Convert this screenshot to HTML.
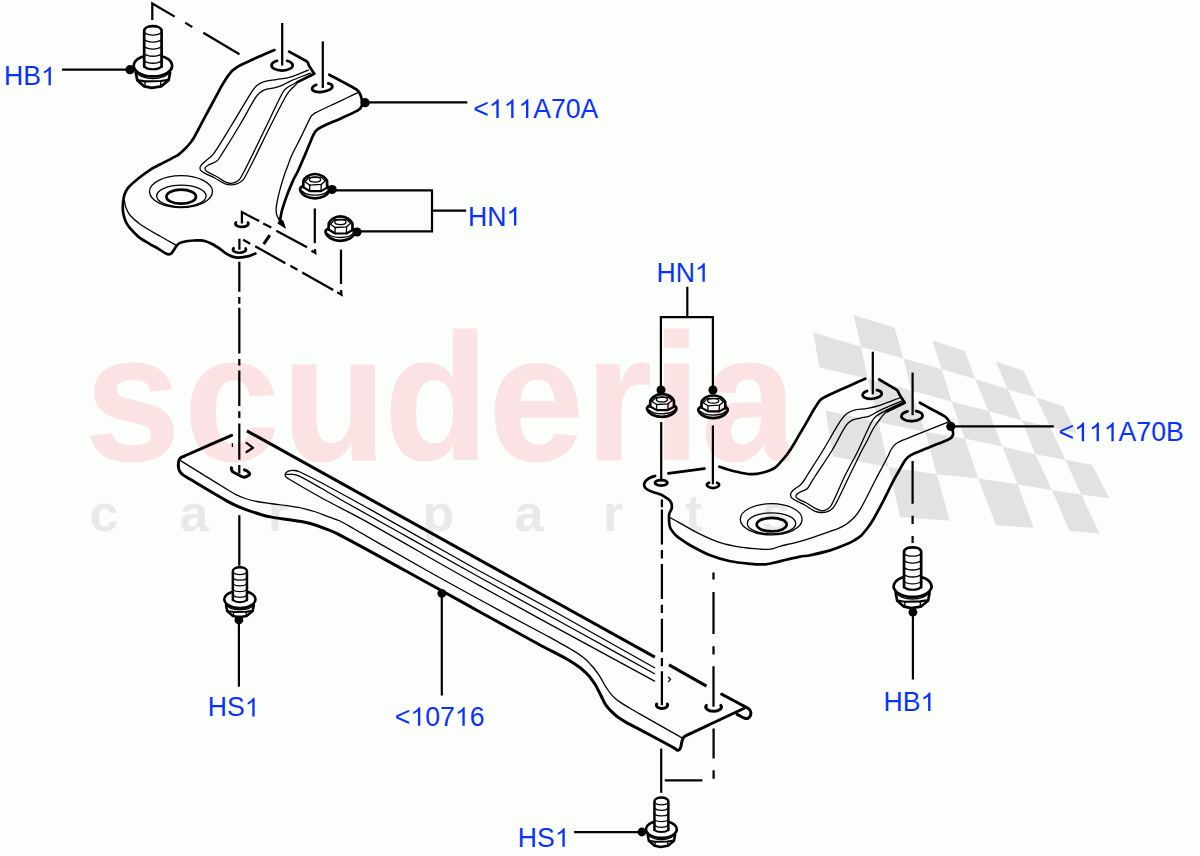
<!DOCTYPE html>
<html>
<head>
<meta charset="utf-8">
<title>Crossmember diagram</title>
<style>
html,body{margin:0;padding:0;background:#fcfefc;}
body{width:1200px;height:856px;overflow:hidden;font-family:"Liberation Sans",sans-serif;}
svg{display:block;position:absolute;left:0;top:0;}
.lbl{font-family:"Liberation Sans",sans-serif;font-size:28.05px;fill:#0a32ff;font-kerning:none;}
.wm{font-family:"Liberation Sans",sans-serif;font-weight:bold;font-kerning:none;}
.k{fill:none;stroke:#000;stroke-width:var(--k,2.7);stroke-linecap:round;stroke-linejoin:round;}
.m{fill:none;stroke:#000;stroke-width:var(--m,2.2);stroke-linecap:round;stroke-linejoin:round;}
.t{fill:none;stroke:#000;stroke-width:var(--t,1.3);stroke-linecap:round;stroke-linejoin:round;}
.ld{fill:none;stroke:#000;stroke-width:2.2;stroke-linecap:butt;}
.dot{fill:#000;stroke:none;}
.ld2{fill:none;stroke:#000;stroke-width:2.25;stroke-linecap:butt;stroke-linejoin:miter;}
.ld3{fill:none;stroke:#000;stroke-width:3;stroke-linecap:butt;}
.nss{vector-effect:non-scaling-stroke;}
</style>
</head>
<body>
<svg width="1200" height="856" viewBox="0 0 1200 856">
<rect x="0" y="0" width="1200" height="856" fill="#fcfefc"/>

<!-- WATERMARK -->
<defs><clipPath id="cwm"><rect x="0" y="300" width="789.5" height="200"/></clipPath></defs>
<g id="wm">
<g clip-path="url(#cwm)"><text class="wm" transform="translate(87,460) scale(0.951,1)" font-size="180.3" fill="#fce3e3" stroke="#fce3e3" stroke-width="1" x="-2.1 101.9 204.7 312.3 422.1 523.9 595 646">scuderia</text></g>
<text class="wm" y="531" font-size="52" fill="#e9e9ea" x="89.5 179.6 268 422.4 514.6 603 685 761.8">carparts</text>
<g fill="#e1e2e1" stroke="none">
<!-- row1 -->
<path d="M853.5,315 L894.4,327.6 L903.6,358.5 L861,346.8Z"/>
<path d="M932.3,340.5 L964.8,351 L975.2,379 L941.8,369.3Z"/>
<path d="M996,361.7 L1023.6,370.9 L1036.1,397.6 L1007.7,389.3Z"/>
<!-- row2 -->
<path d="M813.4,332.6 L861,346.8 L867.5,378.5 L819.3,367.6Z"/>
<path d="M903.6,358.5 L941.8,369.3 L951.5,401.5 L911,390.5Z"/>
<path d="M975.2,379 L1007.7,389.3 L1021.9,420.2 L988.5,411Z"/>
<path d="M1036.1,397.6 L1062.9,406 L1077,433.6 L1050.2,427Z"/>
<!-- row3 -->
<path d="M867.5,378.5 L911,390.5 L925.2,432 L878.5,422Z"/>
<path d="M951.5,401.5 L988.5,411 L1002.3,446.5 L964.8,438.5Z"/>
<path d="M1021.9,420.2 L1050.2,427 L1065.4,459.8 L1035.3,454.3Z"/>
<!-- row4 -->
<path d="M825.5,410.5 L878.5,422 L888.5,466.9 L833,456.5Z"/>
<path d="M925.2,432 L964.8,438.5 L978.2,478.5 L936.8,474.3Z"/>
<path d="M1002.3,446.5 L1035.3,454.3 L1052,490.2 L1017.7,484.3Z"/>
<path d="M1065.4,459.8 L1092,464.8 L1109.6,498.5 L1081.2,494.4Z"/>
<!-- row5 -->
<path d="M888.5,466.9 L936.8,474.3 L949.8,520.8 L900.2,517Z"/>
<path d="M978.2,478.5 L1017.7,484.3 L1033.6,527.8 L996,525.3Z"/>
<path d="M1052,490.2 L1081.2,494.4 L1099.6,533.6 L1069.5,531.1Z"/>
</g>
</g>

<!-- LABELS -->
<g id="labels">
<g transform="translate(3.90,85.30) scale(0.950,1)" class="lbl"><text x="0.00" y="0">HB</text><path transform="translate(38.97,0) scale(0.01370,-0.01267)" d="M763,0 H583 V1147 Q518,1085 412.5,1023 Q307,961 223,930 V1104 Q374,1175 487,1276 Q600,1377 647,1472 H763 Z"/></g>
<g transform="translate(473.20,117.90) scale(0.950,1)" class="lbl"><text x="0.00" y="0">&lt;</text><path transform="translate(16.38,0) scale(0.01370,-0.01267)" d="M763,0 H583 V1147 Q518,1085 412.5,1023 Q307,961 223,930 V1104 Q374,1175 487,1276 Q600,1377 647,1472 H763 Z"/><path transform="translate(31.98,0) scale(0.01370,-0.01267)" d="M763,0 H583 V1147 Q518,1085 412.5,1023 Q307,961 223,930 V1104 Q374,1175 487,1276 Q600,1377 647,1472 H763 Z"/><path transform="translate(47.58,0) scale(0.01370,-0.01267)" d="M763,0 H583 V1147 Q518,1085 412.5,1023 Q307,961 223,930 V1104 Q374,1175 487,1276 Q600,1377 647,1472 H763 Z"/><text x="63.18" y="0">A70A</text></g>
<g transform="translate(467.90,225.60) scale(0.950,1)" class="lbl"><text x="0.00" y="0">HN</text><path transform="translate(40.51,0) scale(0.01370,-0.01267)" d="M763,0 H583 V1147 Q518,1085 412.5,1023 Q307,961 223,930 V1104 Q374,1175 487,1276 Q600,1377 647,1472 H763 Z"/></g>
<g transform="translate(656.40,281.80) scale(0.950,1)" class="lbl"><text x="0.00" y="0">HN</text><path transform="translate(40.51,0) scale(0.01370,-0.01267)" d="M763,0 H583 V1147 Q518,1085 412.5,1023 Q307,961 223,930 V1104 Q374,1175 487,1276 Q600,1377 647,1472 H763 Z"/></g>
<g transform="translate(1058.60,441.20) scale(0.950,1)" class="lbl"><text x="0.00" y="0">&lt;</text><path transform="translate(16.38,0) scale(0.01370,-0.01267)" d="M763,0 H583 V1147 Q518,1085 412.5,1023 Q307,961 223,930 V1104 Q374,1175 487,1276 Q600,1377 647,1472 H763 Z"/><path transform="translate(31.98,0) scale(0.01370,-0.01267)" d="M763,0 H583 V1147 Q518,1085 412.5,1023 Q307,961 223,930 V1104 Q374,1175 487,1276 Q600,1377 647,1472 H763 Z"/><path transform="translate(47.58,0) scale(0.01370,-0.01267)" d="M763,0 H583 V1147 Q518,1085 412.5,1023 Q307,961 223,930 V1104 Q374,1175 487,1276 Q600,1377 647,1472 H763 Z"/><text x="63.18" y="0">A70B</text></g>
<g transform="translate(207.70,716.40) scale(0.950,1)" class="lbl"><text x="0.00" y="0">HS</text><path transform="translate(38.97,0) scale(0.01370,-0.01267)" d="M763,0 H583 V1147 Q518,1085 412.5,1023 Q307,961 223,930 V1104 Q374,1175 487,1276 Q600,1377 647,1472 H763 Z"/></g>
<g transform="translate(394.80,725.80) scale(0.950,1)" class="lbl"><text x="0.00" y="0">&lt;</text><path transform="translate(16.38,0) scale(0.01370,-0.01267)" d="M763,0 H583 V1147 Q518,1085 412.5,1023 Q307,961 223,930 V1104 Q374,1175 487,1276 Q600,1377 647,1472 H763 Z"/><text x="31.98" y="0">07</text><path transform="translate(63.18,0) scale(0.01370,-0.01267)" d="M763,0 H583 V1147 Q518,1085 412.5,1023 Q307,961 223,930 V1104 Q374,1175 487,1276 Q600,1377 647,1472 H763 Z"/><text x="78.78" y="0">6</text></g>
<g transform="translate(883.50,711.10) scale(0.950,1)" class="lbl"><text x="0.00" y="0">HB</text><path transform="translate(38.97,0) scale(0.01370,-0.01267)" d="M763,0 H583 V1147 Q518,1085 412.5,1023 Q307,961 223,930 V1104 Q374,1175 487,1276 Q600,1377 647,1472 H763 Z"/></g>
<g transform="translate(517.80,846.80) scale(0.950,1)" class="lbl"><text x="0.00" y="0">HS</text><path transform="translate(38.97,0) scale(0.01370,-0.01267)" d="M763,0 H583 V1147 Q518,1085 412.5,1023 Q307,961 223,930 V1104 Q374,1175 487,1276 Q600,1377 647,1472 H763 Z"/></g>
</g>

<!-- LEADERS -->
<g id="leaders">
<path class="ld" d="M62,69.7 H130"/><circle class="dot" cx="130" cy="69.7" r="4.6"/>
<path class="ld" d="M365,102.4 H467.3"/><circle class="dot" cx="365.1" cy="102.7" r="4.6"/>
<path class="ld" d="M332,190.3 H432 V231.3 H357 M432,210.7 H466.2"/>
<circle class="dot" cx="332.1" cy="189.5" r="4.6"/><circle class="dot" cx="357" cy="232" r="4.6"/>
<path class="ld" d="M687.3,286.7 V317.2 M660.9,390 V317.2 H712.9 V390"/>
<circle class="dot" cx="661" cy="390" r="4.5"/><circle class="dot" cx="712.9" cy="390" r="4.5"/>
<path class="ld" d="M950.8,426.4 H1053.8"/><circle class="dot" cx="950.8" cy="426.4" r="4.6"/>
<path class="ld" d="M238.9,620 V686.7"/><circle class="dot" cx="238.9" cy="620" r="4.4"/>
<path class="ld" d="M441.8,593.4 V695.5"/><circle class="dot" cx="441.8" cy="593.4" r="4.4"/>
<path class="ld" d="M912.9,612.2 V679.5"/><circle class="dot" cx="912.9" cy="612.2" r="4.4"/>
<path class="ld" d="M574.1,832.2 H641.9"/><circle class="dot" cx="641.9" cy="832" r="4.4"/>
</g>

<g id="fasteners">
<g transform="translate(152.9,65.8) scale(1.000)"><path class="k nss" d="M-8.7,0.8 V-34.8 C-8.7,-41.2 8.7,-41.2 8.7,-34.8 V0.8"/><path class="m nss" d="M-8.7,0.8 C-4.8,4.3 4.8,4.3 8.7,0.8"/><path class="t nss" d="M-8.7,-33.2 C-4.8,-29.8 4.8,-29.8 8.7,-33.2"/><path class="t nss" d="M-8.7,-26.2 C-4.8,-22.8 4.8,-22.8 8.7,-26.2"/><path class="t nss" d="M-8.7,-19.2 C-4.8,-15.8 4.8,-15.8 8.7,-19.2"/><path class="t nss" d="M-8.7,-12.1 C-4.8,-8.7 4.8,-8.7 8.7,-12.1"/><path class="t nss" d="M-8.7,-5.1 C-4.8,-1.7 4.8,-1.7 8.7,-5.1"/><path class="k nss" d="M-9.0,-9.5 A19.2,10.7 0 1 0 9.0,-9.5"/><path class="t nss" d="M-17.8,5.0 C-13,15.4 13,15.4 17.6,5.0"/><path class="k nss" d="M-17.2,6.8 L-15.6,14.5 L-8.6,20.6 L-1.1,22 L8.2,20.6 L15.7,14.5 L17.2,6.8"/><path class="m nss" d="M-15.6,14.3 L-7.9,15.6 L7.8,15.2 L15.7,14.0"/><path class="t nss" d="M-7.9,15.6 V20.2 M7.8,15.2 V20.2"/></g>
<g transform="translate(912.6,586.4) scale(0.985)"><path class="k nss" d="M-8.7,0.8 V-34.8 C-8.7,-41.2 8.7,-41.2 8.7,-34.8 V0.8"/><path class="m nss" d="M-8.7,0.8 C-4.8,4.3 4.8,4.3 8.7,0.8"/><path class="t nss" d="M-8.7,-33.2 C-4.8,-29.8 4.8,-29.8 8.7,-33.2"/><path class="t nss" d="M-8.7,-26.2 C-4.8,-22.8 4.8,-22.8 8.7,-26.2"/><path class="t nss" d="M-8.7,-19.2 C-4.8,-15.8 4.8,-15.8 8.7,-19.2"/><path class="t nss" d="M-8.7,-12.1 C-4.8,-8.7 4.8,-8.7 8.7,-12.1"/><path class="t nss" d="M-8.7,-5.1 C-4.8,-1.7 4.8,-1.7 8.7,-5.1"/><path class="k nss" d="M-9.0,-9.5 A19.2,10.7 0 1 0 9.0,-9.5"/><path class="t nss" d="M-17.8,5.0 C-13,15.4 13,15.4 17.6,5.0"/><path class="k nss" d="M-17.2,6.8 L-15.6,14.5 L-8.6,20.6 L-1.1,22 L8.2,20.6 L15.7,14.5 L17.2,6.8"/><path class="m nss" d="M-15.6,14.3 L-7.9,15.6 L7.8,15.2 L15.7,14.0"/><path class="t nss" d="M-7.9,15.6 V20.2 M7.8,15.2 V20.2"/></g>
<g transform="translate(239.9,599.4) scale(0.810)" style="--k:2.5;--m:2;--t:1.25"><path class="k nss" d="M-8.7,0.8 V-34.8 C-8.7,-41.2 8.7,-41.2 8.7,-34.8 V0.8"/><path class="m nss" d="M-8.7,0.8 C-4.8,4.3 4.8,4.3 8.7,0.8"/><path class="t nss" d="M-8.7,-33.2 C-4.8,-29.8 4.8,-29.8 8.7,-33.2"/><path class="t nss" d="M-8.7,-26.2 C-4.8,-22.8 4.8,-22.8 8.7,-26.2"/><path class="t nss" d="M-8.7,-19.2 C-4.8,-15.8 4.8,-15.8 8.7,-19.2"/><path class="t nss" d="M-8.7,-12.1 C-4.8,-8.7 4.8,-8.7 8.7,-12.1"/><path class="t nss" d="M-8.7,-5.1 C-4.8,-1.7 4.8,-1.7 8.7,-5.1"/><path class="k nss" d="M-9.0,-9.5 A19.2,10.7 0 1 0 9.0,-9.5"/><path class="t nss" d="M-17.8,5.0 C-13,15.4 13,15.4 17.6,5.0"/><path class="k nss" d="M-17.2,6.8 L-15.6,14.5 L-8.6,20.6 L-1.1,22 L8.2,20.6 L15.7,14.5 L17.2,6.8"/><path class="m nss" d="M-15.6,14.3 L-7.9,15.6 L7.8,15.2 L15.7,14.0"/><path class="t nss" d="M-7.9,15.6 V20.2 M7.8,15.2 V20.2"/></g>
<g transform="translate(661.4,829.3) scale(0.800)" style="--k:2.5;--m:2;--t:1.25"><path class="k nss" d="M-8.7,0.8 V-34.8 C-8.7,-41.2 8.7,-41.2 8.7,-34.8 V0.8"/><path class="m nss" d="M-8.7,0.8 C-4.8,4.3 4.8,4.3 8.7,0.8"/><path class="t nss" d="M-8.7,-33.2 C-4.8,-29.8 4.8,-29.8 8.7,-33.2"/><path class="t nss" d="M-8.7,-26.2 C-4.8,-22.8 4.8,-22.8 8.7,-26.2"/><path class="t nss" d="M-8.7,-19.2 C-4.8,-15.8 4.8,-15.8 8.7,-19.2"/><path class="t nss" d="M-8.7,-12.1 C-4.8,-8.7 4.8,-8.7 8.7,-12.1"/><path class="t nss" d="M-8.7,-5.1 C-4.8,-1.7 4.8,-1.7 8.7,-5.1"/><path class="k nss" d="M-9.0,-9.5 A19.2,10.7 0 1 0 9.0,-9.5"/><path class="t nss" d="M-17.8,5.0 C-13,15.4 13,15.4 17.6,5.0"/><path class="k nss" d="M-17.2,6.8 L-15.6,14.5 L-8.6,20.6 L-1.1,22 L8.2,20.6 L15.7,14.5 L17.2,6.8"/><path class="m nss" d="M-15.6,14.3 L-7.9,15.6 L7.8,15.2 L15.7,14.0"/><path class="t nss" d="M-7.9,15.6 V20.2 M7.8,15.2 V20.2"/></g>
<g transform="translate(314.6,189.5) scale(1.000,1.000)"><path class="k nss" d="M-11.4,-2.4 L-11.2,-8.6 C-10,-11.5 -6,-15.5 0.4,-15.5 C7,-15.5 11,-11.5 12.4,-8.6 L12.6,-1.9"/><path class="t nss" d="M-9.6,-7.7 L-5.8,-11.9 L6.6,-12.4 L10.6,-8.6 L6.6,-5.1 L-4.9,-4.4Z"/><ellipse class="t nss" cx="0.4" cy="-9.9" rx="5.6" ry="2.6"/><path class="t nss" d="M-4.9,-4.4 V1.6 M6.6,-5.1 L6.4,1.6"/><path class="m nss" d="M-11.4,-2.4 L-4.9,1.6 L6.4,1.6 L12.6,-1.9"/><path class="k nss" d="M-11.6,-3.4 C-13.6,-2.6 -14.6,-1.2 -14.5,0.2 C-13.5,5.6 -6,8.9 0.4,8.9 C6.8,8.9 14,5.6 14.9,0.2 C15,-1.2 14.2,-2.4 12.6,-3.0"/><path class="t nss" d="M-12.6,1.5 C-10,4.4 -5,5.6 0.4,5.6 C5.8,5.6 10.8,4.4 13.2,1.5"/></g>
<g transform="translate(340.0,231.9) scale(1.000,1.000)"><path class="k nss" d="M-11.4,-2.4 L-11.2,-8.6 C-10,-11.5 -6,-15.5 0.4,-15.5 C7,-15.5 11,-11.5 12.4,-8.6 L12.6,-1.9"/><path class="t nss" d="M-9.6,-7.7 L-5.8,-11.9 L6.6,-12.4 L10.6,-8.6 L6.6,-5.1 L-4.9,-4.4Z"/><ellipse class="t nss" cx="0.4" cy="-9.9" rx="5.6" ry="2.6"/><path class="t nss" d="M-4.9,-4.4 V1.6 M6.6,-5.1 L6.4,1.6"/><path class="m nss" d="M-11.4,-2.4 L-4.9,1.6 L6.4,1.6 L12.6,-1.9"/><path class="k nss" d="M-11.6,-3.4 C-13.6,-2.6 -14.6,-1.2 -14.5,0.2 C-13.5,5.6 -6,8.9 0.4,8.9 C6.8,8.9 14,5.6 14.9,0.2 C15,-1.2 14.2,-2.4 12.6,-3.0"/><path class="t nss" d="M-12.6,1.5 C-10,4.4 -5,5.6 0.4,5.6 C5.8,5.6 10.8,4.4 13.2,1.5"/></g>
<g transform="translate(661.5,408.6) scale(1.000,0.930)"><path class="k nss" d="M-11.4,-2.4 L-11.2,-8.6 C-10,-11.5 -6,-15.5 0.4,-15.5 C7,-15.5 11,-11.5 12.4,-8.6 L12.6,-1.9"/><path class="t nss" d="M-9.6,-7.7 L-5.8,-11.9 L6.6,-12.4 L10.6,-8.6 L6.6,-5.1 L-4.9,-4.4Z"/><ellipse class="t nss" cx="0.4" cy="-9.9" rx="5.6" ry="2.6"/><path class="t nss" d="M-4.9,-4.4 V1.6 M6.6,-5.1 L6.4,1.6"/><path class="m nss" d="M-11.4,-2.4 L-4.9,1.6 L6.4,1.6 L12.6,-1.9"/><path class="k nss" d="M-11.6,-3.4 C-13.6,-2.6 -14.6,-1.2 -14.5,0.2 C-13.5,5.6 -6,8.9 0.4,8.9 C6.8,8.9 14,5.6 14.9,0.2 C15,-1.2 14.2,-2.4 12.6,-3.0"/><path class="t nss" d="M-12.6,1.5 C-10,4.4 -5,5.6 0.4,5.6 C5.8,5.6 10.8,4.4 13.2,1.5"/></g>
<g transform="translate(712.8,409.9) scale(1.000,0.930)"><path class="k nss" d="M-11.4,-2.4 L-11.2,-8.6 C-10,-11.5 -6,-15.5 0.4,-15.5 C7,-15.5 11,-11.5 12.4,-8.6 L12.6,-1.9"/><path class="t nss" d="M-9.6,-7.7 L-5.8,-11.9 L6.6,-12.4 L10.6,-8.6 L6.6,-5.1 L-4.9,-4.4Z"/><ellipse class="t nss" cx="0.4" cy="-9.9" rx="5.6" ry="2.6"/><path class="t nss" d="M-4.9,-4.4 V1.6 M6.6,-5.1 L6.4,1.6"/><path class="m nss" d="M-11.4,-2.4 L-4.9,1.6 L6.4,1.6 L12.6,-1.9"/><path class="k nss" d="M-11.6,-3.4 C-13.6,-2.6 -14.6,-1.2 -14.5,0.2 C-13.5,5.6 -6,8.9 0.4,8.9 C6.8,8.9 14,5.6 14.9,0.2 C15,-1.2 14.2,-2.4 12.6,-3.0"/><path class="t nss" d="M-12.6,1.5 C-10,4.4 -5,5.6 0.4,5.6 C5.8,5.6 10.8,4.4 13.2,1.5"/></g>
</g>
<g id="bracketA"><path class="k" d="M274.4,50.1 C268.6,52.6 262.8,55.0 257.0,57.6 C251.5,60.1 246.0,62.6 240.5,65.3 C239.0,66.0 237.4,66.9 236.0,67.8 C234.8,68.6 233.6,69.6 232.5,70.6 C231.4,71.6 230.5,72.7 229.6,73.8 C228.7,74.8 227.9,75.9 227.2,77.0 C225.2,80.1 223.2,83.2 221.4,86.4 C219.7,89.3 218.3,92.3 216.7,95.2 C212.8,102.4 208.9,109.6 205.0,116.8 C202.8,120.8 200.7,124.9 198.6,129.0 C197.1,131.7 195.8,134.5 194.2,137.2 C192.9,139.4 191.4,141.5 189.8,143.5 C188.1,145.6 186.2,147.6 184.3,149.5 C183.1,150.7 181.8,151.9 180.5,153.0 C179.4,154.0 178.2,155.0 176.9,155.7 C172.7,158.1 168.3,160.2 164.0,162.4 C159.6,164.7 155.1,166.7 150.9,169.3 C146.9,171.8 143.2,174.6 139.5,177.5 C135.8,180.5 132.1,183.6 128.8,187.0 C127.6,188.2 126.8,189.7 126.0,191.2 C125.3,192.6 124.6,194.1 124.2,195.6 C123.6,197.7 123.3,199.8 123.1,202.0 C122.9,204.4 122.7,206.7 122.8,209.1 C122.9,211.1 123.2,213.1 123.6,215.0 C124.0,216.8 124.6,218.6 125.3,220.4 C125.9,221.9 126.6,223.3 127.4,224.6 C128.2,226.0 129.3,227.2 130.3,228.4 C131.7,230.1 133.2,231.7 134.8,233.2 C136.5,234.9 138.2,236.8 140.2,238.2 C143.1,240.3 146.4,242.0 149.5,243.8 C152.7,245.7 156.0,247.4 159.2,249.3 C161.3,250.5 163.2,252.0 165.3,253.2 C165.9,253.6 166.5,253.9 167.2,254.1 C167.7,254.3 168.3,254.4 168.9,254.4 C169.5,254.4 170.0,254.2 170.5,253.9 C171.0,253.6 171.5,253.3 171.9,252.8 C172.8,251.7 173.5,250.5 174.3,249.3 C175.1,248.0 175.9,246.7 176.8,245.5 C177.2,244.9 177.8,244.4 178.4,244.0 C179.0,243.5 179.7,243.0 180.4,242.8 C182.4,242.1 184.4,241.7 186.4,241.3 C188.6,240.9 190.8,240.6 193.0,240.5 C195.5,240.3 198.0,240.2 200.5,240.4 C202.2,240.5 203.9,240.8 205.5,241.3 C207.2,241.8 208.9,242.5 210.5,243.3 C212.2,244.1 213.9,245.0 215.5,246.0 C217.2,247.0 219.0,248.1 220.6,249.3 C222.3,250.5 223.9,252.0 225.6,253.2 C226.4,253.7 227.2,254.2 228.0,254.6 C229.5,255.3 230.9,256.2 232.5,256.6 C234.5,257.2 236.6,257.7 238.7,257.6 C242.1,257.5 245.4,256.9 248.7,256.1 C251.0,255.5 253.2,254.4 255.4,253.6" />
<path class="k" d="M289.1,51.6 L306.6,61.2 L307.8,62.4 L309.2,66.1 L314.2,73.7" />
<path class="k" d="M329.3,74.7 C333.5,76.9 337.6,79.2 341.8,81.4 C346.0,83.7 350.2,85.9 354.4,88.2 C355.2,88.6 355.9,89.1 356.6,89.6 C357.3,90.1 357.9,90.7 358.4,91.3 C359.0,92.0 359.5,92.8 359.9,93.6 C360.3,94.5 360.7,95.4 361.0,96.3 C361.3,97.3 361.5,98.3 361.7,99.3 C361.9,100.3 361.9,101.3 362.0,102.3 C362.0,103.0 362.1,103.8 362.0,104.5 C361.9,105.1 361.7,105.7 361.5,106.3 C361.3,106.9 361.0,107.4 360.7,107.9 C360.3,108.4 359.9,108.9 359.4,109.3 C358.7,109.9 357.9,110.5 357.0,110.9 C352.1,113.3 347.0,115.6 342.0,117.9 C336.0,120.6 330.0,123.1 324.0,125.8 C322.5,126.5 321.0,127.1 319.6,128.0 C318.5,128.7 317.5,129.4 316.6,130.3 C315.7,131.2 314.9,132.1 314.3,133.2 C313.2,135.0 312.4,137.0 311.6,138.9 C309.3,144.3 307.2,149.7 304.9,155.1 C303.4,158.6 301.9,162.0 300.4,165.5 C299.4,167.7 298.5,169.9 297.5,172.0 C296.1,174.9 294.3,177.6 293.0,180.6 C290.8,185.6 288.7,190.7 286.8,195.8 C285.1,200.4 283.6,205.0 282.2,209.7 C281.5,212.2 281.0,214.8 280.5,217.4 C280.3,218.6 280.3,219.8 280.2,221.0" />
<path d="M277.8,223.2 L285.4,228.1 L283.0,221.0 L280.4,219.5Z" fill="#000" stroke="#000" stroke-width="1" stroke-linejoin="round"/>
<path class="t" d="M357.4,92.8 C353.8,94.5 350.2,96.3 346.6,98.0 C343.0,99.7 339.4,101.4 335.8,103.1 C334.4,103.7 333.1,104.4 331.7,105.0 C326.6,107.4 321.4,109.8 316.3,112.3 C315.2,112.8 314.2,113.5 313.3,114.2 C312.6,114.7 312.0,115.3 311.4,116.0 C310.9,116.6 310.5,117.4 310.1,118.1 C306.9,124.5 303.9,131.0 300.8,137.4 C297.5,144.1 293.9,150.6 290.8,157.4 C289.6,159.9 289.0,162.6 288.0,165.2 C287.1,167.6 286.1,170.0 285.2,172.5 C284.3,175.1 283.4,177.7 282.6,180.4 C281.1,185.5 279.6,190.6 278.4,195.8 C277.5,199.6 276.7,203.5 276.2,207.4 C276.0,208.8 276.1,210.1 276.2,211.5 C276.3,212.7 276.4,213.9 276.8,215.0 C277.5,216.9 278.5,218.7 279.4,220.5" />
<path class="t" d="M124.3,200.5 C124.9,203.0 125.1,205.7 126.1,208.1 C127.1,210.6 128.3,213.2 130.1,215.2 C133.1,218.6 136.5,221.6 140.2,224.2 C146.6,228.7 153.5,232.4 160.3,236.3 C165.6,239.4 171.1,242.3 176.5,245.3" />
<path class="k" d="M314.2,73.7 L297.0,82.4" />
<path class="k" d="M287.1,60.8 A10.6,5.2 0 1 1 277.1,60.8"/>
<path class="k" d="M328.7,84.3 A10.2,4.3 0 1 1 316.7,84.0" transform="rotate(-8.0 322.1 87.6)"/>
<ellipse class="t" cx="181.0" cy="191.6" rx="31.5" ry="15.9"/>
<ellipse class="t" cx="181.4" cy="196.0" rx="24.7" ry="10.9"/>
<ellipse class="k" cx="181.2" cy="196.7" rx="14.8" ry="7.0"/>
<path class="k" d="M248.0,222.7 A6.5,3.2 0 1 1 236.0,222.4"/>
<path class="k" d="M245.6,248.5 A6.5,3.2 0 1 1 233.6,248.2"/>
<path class="t" d="M308.4,70.1 C302.4,72.4 296.6,75.3 290.4,77.1 C285.8,78.5 281.0,78.8 276.3,79.6 C272.3,80.3 268.1,80.4 264.2,81.6 C261.7,82.3 259.2,83.6 257.2,85.2 C255.2,86.8 253.6,89.0 252.2,91.2 C245.1,102.3 238.6,113.8 231.7,125.0 C225.9,134.4 220.3,143.9 214.1,153.1 C213.0,154.7 211.5,155.9 210.1,157.2 C207.8,159.3 205.3,161.0 203.1,163.2 C201.9,164.4 200.4,165.6 200.1,167.2 C199.8,168.6 200.5,170.4 201.6,171.2 C205.7,174.2 210.7,175.9 215.2,178.3 C218.6,180.1 221.6,182.4 225.2,183.8 C227.4,184.6 229.8,185.0 232.2,184.8 C234.7,184.6 237.1,184.0 239.3,182.8 C241.3,181.7 243.2,180.3 244.3,178.3 C253.8,160.9 261.9,142.7 270.9,125.0 C275.6,115.7 280.3,106.4 285.3,97.2 C286.4,95.1 287.7,93.0 289.3,91.2 C291.5,88.6 294.0,86.5 296.4,84.1" />
<path class="t" d="M310.5,73.1 C303.8,75.8 297.0,78.2 290.4,81.1 C286.9,82.6 283.8,84.8 280.3,86.2 C277.7,87.2 275.0,87.6 272.3,88.2 C269.9,88.7 267.5,88.8 265.2,89.7 C263.0,90.5 261.0,91.7 259.2,93.2 C257.6,94.6 256.3,96.4 255.2,98.2 C249.8,107.0 245.1,116.2 239.8,125.0 C233.7,135.2 227.5,145.2 221.2,155.2 C220.0,157.1 219.0,159.3 217.2,160.7 C214.5,162.8 211.0,163.4 208.1,165.2 C206.9,165.9 205.4,166.8 205.1,168.2 C204.8,169.3 205.7,170.5 206.6,171.2 C209.5,173.3 213.1,174.5 216.2,176.3 C219.3,178.0 222.0,180.3 225.2,181.8 C227.1,182.7 229.1,183.4 231.2,183.3 C233.3,183.2 235.5,182.5 237.3,181.3 C239.0,180.2 240.4,178.6 241.3,176.8 C250.3,159.8 258.4,142.3 266.9,125.0 C272.1,114.4 276.8,103.6 282.3,93.2 C283.3,91.3 284.6,89.5 286.3,88.2 C289.4,85.9 293.0,84.3 296.4,82.6 C301.7,80.0 307.1,77.6 312.5,75.1" /></g>
<g id="bracketB"><path class="k" d="M719.4,466.7 C722.3,467.6 725.1,468.7 728.0,469.5 C731.5,470.5 735.0,471.5 738.6,472.2 C742.4,473.0 746.2,473.8 750.0,474.1 C752.3,474.3 754.7,474.0 757.0,473.8 C758.8,473.6 760.6,473.3 762.4,472.8 C764.6,472.2 766.7,471.6 768.8,470.8 C770.9,470.0 773.0,469.2 774.8,467.9 C777.1,466.2 779.0,463.9 781.0,461.7 C783.2,459.3 785.3,456.9 787.2,454.3 C789.4,451.3 791.4,448.2 793.3,445.0 C795.5,441.5 797.4,437.9 799.5,434.4 C801.6,430.9 803.7,427.4 805.7,423.9 C807.8,420.2 809.8,416.5 811.9,412.8 C813.5,410.1 815.1,407.3 816.9,404.7 C818.0,403.0 819.2,401.2 820.6,399.8 C821.7,398.7 823.0,398.0 824.3,397.3 C826.3,396.2 828.4,395.2 830.5,394.2 C836.7,391.4 842.9,388.7 849.1,385.9 C854.5,383.5 859.8,381.1 865.2,378.7" />
<path class="k" d="M879.1,379.5 L896.4,389.6 L897.8,391.0 L899.7,395.1 L904.7,402.7" />
<path class="k" d="M919.8,402.7 C923.9,405.0 928.0,407.2 932.1,409.5 C936.2,411.7 940.4,413.8 944.4,416.2 C945.2,416.7 945.9,417.3 946.6,418.0 C947.3,418.7 947.9,419.5 948.4,420.3 C949.2,421.5 949.9,422.7 950.4,424.0 C951.2,426.0 951.8,428.2 952.5,430.3 C952.7,431.0 953.0,431.7 953.1,432.5 C953.2,433.1 953.1,433.7 953.0,434.3 C952.8,435.1 952.6,435.8 952.2,436.5 C951.8,437.2 951.2,437.8 950.5,438.3 C949.6,439.0 948.5,439.5 947.5,439.9 C941.7,442.4 935.8,444.6 930.0,447.0 C924.4,449.3 918.8,451.5 913.2,453.9 C912.1,454.4 911.0,454.9 910.0,455.6 C909.1,456.2 908.4,456.9 907.6,457.6 C906.9,458.3 906.1,459.0 905.5,459.8 C904.9,460.5 904.5,461.2 904.0,462.0 C902.9,463.8 901.9,465.6 900.9,467.4 C898.6,471.5 896.2,475.5 894.0,479.7 C890.5,486.3 887.4,493.0 884.0,499.6 C880.6,506.2 877.1,512.8 873.4,519.2 C871.6,522.3 869.6,525.3 867.4,528.2 C865.2,531.0 863.0,533.9 860.4,536.3 C858.6,537.9 856.4,539.1 854.3,540.3 C851.7,541.8 849.0,543.1 846.3,544.3 C841.0,546.5 835.7,548.7 830.2,550.4 C823.6,552.4 816.8,553.8 810.1,555.2 C806.8,555.9 803.3,556.0 800.0,556.6 C795.3,557.5 790.7,558.7 786.0,559.8 C781.8,560.8 777.7,561.9 773.5,562.8 C770.8,563.4 768.1,564.2 765.4,564.3 C760.4,564.5 755.4,564.2 750.4,563.8 C743.7,563.2 736.9,562.7 730.3,561.3 C723.5,559.9 716.7,557.9 710.2,555.3 C703.2,552.5 696.7,548.8 690.1,545.2 C686.6,543.3 683.3,541.0 680.0,538.7 C678.4,537.6 676.9,536.4 675.5,535.0 C674.4,533.9 673.5,532.7 672.6,531.5 C671.8,530.4 670.8,529.3 670.3,528.0 C669.7,526.6 669.5,525.0 669.3,523.5 C669.1,521.7 669.0,519.8 669.0,518.0 C669.0,516.5 668.9,514.9 669.3,513.5 C669.7,511.9 671.0,510.6 671.5,509.0 C671.9,507.8 671.9,506.4 671.8,505.1 C671.7,504.0 671.3,502.9 670.8,502.0 C670.2,501.0 669.3,500.1 668.4,499.3 C667.0,498.2 665.5,497.2 664.0,496.3 C662.7,495.5 661.5,494.8 660.1,494.3 C657.8,493.4 655.3,492.8 653.0,492.0 C651.4,491.4 649.9,490.9 648.4,490.1 C647.3,489.5 646.1,488.8 645.3,487.8 C644.7,487.1 644.3,486.1 644.2,485.1 C644.1,484.2 644.3,483.3 644.7,482.5 C645.2,481.6 645.9,480.8 646.7,480.1 C647.7,479.2 648.8,478.4 650.0,477.8 C651.6,477.0 653.4,476.5 655.1,475.9" />
<path class="k" d="M668.4,473.4 L704.4,468.7" />
<path class="t" d="M947.4,422.3 C943.6,423.8 939.8,425.3 936.0,426.8 C932.3,428.3 928.5,429.8 924.8,431.3 C921.0,432.8 917.3,434.3 913.5,435.8 C909.7,437.3 905.9,438.8 902.2,440.4 C900.6,441.1 899.0,441.9 897.5,442.8 C896.3,443.5 895.1,444.4 894.2,445.4 C892.8,446.9 891.6,448.7 890.6,450.5 C889.6,452.2 889.0,454.2 888.1,456.0 C884.0,464.0 879.6,472.0 875.4,480.0 C870.4,489.7 865.8,499.6 860.4,509.1 C858.7,512.0 856.6,514.7 854.3,517.2 C851.9,519.8 849.2,522.2 846.3,524.2 C843.9,525.9 841.2,527.1 838.5,528.3 C835.8,529.5 833.0,530.3 830.2,531.3 C823.5,533.7 816.8,536.0 810.1,538.3 C806.8,539.4 803.4,540.5 800.0,541.4 C796.7,542.3 793.3,543.1 790.0,543.9 C786.8,544.7 783.6,545.3 780.5,546.2 C777.1,547.1 773.9,548.7 770.5,549.2 C767.2,549.7 763.8,549.4 760.4,549.2 C753.7,548.8 746.9,548.3 740.3,547.2 C733.5,546.1 726.7,544.8 720.2,542.7 C713.3,540.5 706.6,537.4 700.1,534.2 C693.2,530.8 686.7,526.8 680.0,523.1 C676.4,521.1 672.9,519.2 669.3,517.3" />
<path class="k" d="M904.7,402.7 L887.0,411.3" />
<path class="k" d="M877.3,390.6 A9.6,4.4 0 1 1 867.4,390.5" transform="rotate(-5.0 872.2 394.3)"/>
<path class="k" d="M916.3,411.2 A10.6,5.2 0 1 1 907.7,411.2" transform="rotate(-2.0 912.0 416.0)"/>
<path class="k" d="M662.8,480.1 A6.2,2.8 0 1 1 659.6,480.1"/>
<path class="k" d="M717.0,482.7 A6.2,2.9 0 1 1 709.0,482.7"/>
<ellipse class="t" cx="771.2" cy="519.3" rx="30.9" ry="15.6"/>
<ellipse class="t" cx="771.5" cy="523.4" rx="24.2" ry="10.6"/>
<ellipse class="k" cx="771.7" cy="524.6" rx="15.0" ry="6.8"/>
<path class="t" d="M899.5,398.0 C893.2,400.4 886.9,403.0 880.5,405.1 C875.9,406.6 871.2,407.7 866.4,408.6 C862.4,409.4 858.2,409.0 854.3,410.1 C851.4,410.9 848.6,412.2 846.3,414.1 C843.9,416.0 842.0,418.6 840.3,421.2 C834.3,430.6 829.0,440.5 823.2,450.0 C817.9,458.7 812.3,467.3 806.8,476.0 C805.7,477.7 804.8,479.4 803.6,481.0 C802.5,482.5 801.5,484.0 800.1,485.2 C797.9,487.1 795.2,488.2 793.1,490.2 C792.0,491.3 790.8,492.6 790.6,494.2 C790.4,495.6 791.0,497.3 792.1,498.2 C796.0,501.2 800.8,502.9 805.1,505.3 C808.5,507.2 811.6,509.8 815.2,511.3 C817.4,512.2 819.8,512.6 822.2,512.5 C824.6,512.4 827.1,511.9 829.2,510.8 C831.2,509.8 833.2,508.3 834.3,506.3 C839.9,496.5 844.3,486.1 849.3,476.0 C853.4,467.6 857.5,459.2 861.7,450.8 C863.4,447.4 865.4,444.2 867.1,440.8 C869.0,437.2 870.6,433.5 872.5,430.0 C873.5,428.1 874.7,426.4 875.9,424.6 C877.0,423.0 878.2,421.5 879.4,420.0 C880.5,418.5 881.4,417.0 882.6,415.6 C883.8,414.2 885.2,412.9 886.5,411.6" />
<path class="t" d="M901.6,401.1 C894.6,404.1 887.4,406.9 880.5,410.1 C876.7,411.9 873.3,414.5 869.4,416.1 C866.5,417.2 863.4,417.4 860.4,418.1 C857.7,418.8 854.8,418.9 852.3,420.2 C850.0,421.4 847.8,423.0 846.3,425.2 C841.0,433.1 837.2,441.9 832.3,450.0 C826.9,458.8 820.9,467.3 815.3,476.0 C814.0,478.0 812.7,480.1 811.4,482.2 C810.0,484.4 809.1,487.0 807.1,488.7 C804.8,490.6 801.7,491.2 799.1,492.7 C798.0,493.4 796.5,494.0 796.1,495.2 C795.7,496.2 796.3,497.6 797.1,498.2 C799.8,500.2 803.2,501.2 806.1,502.8 C809.2,504.5 812.0,506.7 815.2,508.3 C817.4,509.4 819.7,510.6 822.2,510.8 C823.9,510.9 825.7,510.2 827.2,509.3 C828.8,508.3 830.4,507.0 831.3,505.3 C836.3,495.8 840.1,485.7 844.8,476.0 C849.1,467.2 854.1,458.8 858.4,450.0 C862.9,440.8 866.6,431.2 871.4,422.2 C872.6,419.9 874.3,417.7 876.4,416.1 C879.5,413.7 883.0,411.9 886.5,410.1 C891.8,407.4 897.2,405.1 902.6,402.6" /></g>
<g id="cross" style="--k:3.0"><path class="k" d="M231.6,435.3 C216.6,441.9 201.7,448.4 186.7,455.0 C185.5,455.5 184.2,456.1 183.0,456.6 C182.3,456.9 181.5,457.1 180.9,457.6 C180.1,458.3 179.4,459.3 179.0,460.3 C178.6,461.3 178.5,462.3 178.4,463.4 C178.3,464.9 178.3,466.5 178.6,468.0 C178.9,469.3 179.3,470.6 180.0,471.8 C180.6,472.9 181.6,473.7 182.5,474.5 C183.5,475.4 184.7,476.1 185.9,476.8 C200.1,485.2 214.2,493.8 228.5,501.9 C231.9,503.8 235.4,505.3 239.0,506.8 C242.7,508.4 246.4,509.8 250.2,511.1 C253.4,512.2 256.7,513.3 260.0,514.2 C263.4,515.2 266.8,516.2 270.3,516.9 C275.8,518.0 281.4,518.7 287.0,519.5 C292.6,520.3 298.2,520.9 303.7,521.9 C306.5,522.4 309.3,523.2 312.0,524.0 C314.8,524.8 317.6,525.8 320.4,526.9 C326.0,529.0 331.8,530.8 337.1,533.6 C368.4,550.0 399.1,567.3 430.0,584.3 C446.8,593.5 463.6,602.9 480.4,612.2 C500.3,623.2 520.1,634.2 540.0,645.0 C546.6,648.6 553.4,651.8 560.1,655.3 C562.8,656.7 565.4,658.2 568.0,659.7 C570.4,661.1 572.8,662.6 575.2,664.2 C577.0,665.4 578.8,666.6 580.5,668.0 C582.1,669.3 583.7,670.8 585.2,672.2 C586.5,673.4 587.8,674.7 589.0,676.0 C590.2,677.4 591.2,678.8 592.3,680.3 C593.4,681.8 594.5,683.4 595.5,685.0 C596.5,686.7 597.4,688.5 598.3,690.3 C599.4,692.4 600.4,694.4 601.4,696.5 C602.4,698.5 603.2,700.5 604.3,702.4 C605.2,703.9 606.1,705.4 607.2,706.8 C608.2,708.1 609.3,709.3 610.4,710.4 C612.3,712.3 614.3,714.3 616.4,716.0 C618.0,717.3 619.8,718.4 621.5,719.5 C623.3,720.7 625.1,721.8 627.0,722.8 C635.0,727.1 643.0,731.2 651.0,735.5 C659.1,739.8 667.2,744.1 675.2,748.6 C675.8,748.9 676.1,749.6 676.6,749.9 C677.0,750.1 677.5,750.4 677.9,750.3 C678.5,750.2 679.2,749.9 679.6,749.4 C680.2,748.7 680.5,747.8 680.8,746.9 C681.2,745.6 681.3,744.3 681.6,743.0 C681.9,741.6 682.2,740.1 682.8,738.8 C683.1,738.0 683.7,737.3 684.3,736.7 C685.1,736.0 686.0,735.6 686.9,735.2 C696.2,730.7 705.6,726.4 715.0,722.0 C724.6,717.5 734.1,713.0 743.7,708.5" />
<path class="k" d="M246.9,430.9 L654.9,657.1" style="stroke-linecap:butt"/>
<path class="k" d="M669.0,664.9 L706.5,686.1" style="stroke-linecap:butt"/>
<path class="k" d="M721.6,694.2 C729.5,698.4 737.5,702.6 745.4,706.8 C746.6,707.4 747.8,708.0 748.8,708.8 C749.5,709.4 750.1,710.2 750.4,711.0 C750.8,711.9 750.9,713.0 750.8,714.0 C750.7,715.0 750.2,716.0 749.6,716.9 C749.2,717.5 748.5,718.0 747.8,718.3 C747.0,718.6 746.2,718.7 745.4,718.5 C744.2,718.2 743.1,717.5 742.0,717.0 C740.3,716.2 738.7,715.3 737.1,714.4" />
<path class="t" d="M180.9,460.9 C196.8,470.7 212.6,480.5 228.5,490.2 C231.0,491.7 233.4,493.4 236.0,494.7 C239.0,496.2 242.0,497.5 245.2,498.5 C249.1,499.8 253.0,500.7 257.0,501.5 C261.4,502.4 265.9,502.9 270.3,503.5 C275.9,504.3 281.4,504.9 287.0,505.7 C292.6,506.6 298.2,507.4 303.7,508.6 C307.9,509.5 312.0,510.7 316.0,512.0 C320.3,513.4 324.5,515.3 328.7,516.9 C332.5,518.3 336.4,519.3 340.0,521.0 C344.8,523.3 349.2,526.2 353.8,528.8 C379.2,543.3 404.5,558.0 430.0,572.3 C454.7,586.2 479.7,599.7 504.6,613.2 C519.7,621.4 534.9,629.3 550.0,637.4 C553.4,639.2 556.7,641.2 560.1,643.1 C563.6,645.1 567.1,647.0 570.5,649.0 C573.8,651.0 577.1,652.9 580.2,655.1 C582.1,656.4 583.8,657.8 585.5,659.3 C587.2,660.8 588.7,662.5 590.3,664.2 C591.7,665.8 593.2,667.3 594.5,669.0 C595.8,670.7 597.1,672.4 598.3,674.2 C599.4,675.8 600.4,677.5 601.4,679.2 C602.4,680.9 603.3,682.6 604.3,684.3 C605.3,685.9 606.3,687.5 607.3,689.0 C608.3,690.5 609.3,691.9 610.4,693.3 C611.8,695.0 613.3,696.7 615.0,698.2 C616.7,699.7 618.5,701.1 620.4,702.4 C623.5,704.5 626.8,706.4 630.0,708.3 C633.5,710.4 637.0,712.4 640.5,714.4 C653.7,721.9 667.1,729.4 680.3,736.9 C681.1,737.3 681.8,737.8 682.5,738.3" />
<path class="t" d="M370.0,509.4 C353.8,500.5 337.6,491.5 321.3,482.8 C314.3,479.0 307.2,475.4 300.0,472.0 C298.4,471.3 296.7,470.7 295.0,470.5 C293.4,470.3 291.8,470.3 290.2,470.6 C289.0,470.8 287.8,471.2 286.8,472.0 C286.0,472.6 285.3,473.6 285.1,474.6 C285.0,475.4 285.5,476.3 286.0,476.9 C286.8,477.8 287.9,478.4 288.9,479.0 C299.6,485.4 310.4,491.7 321.3,497.8 C327.4,501.2 333.8,504.3 340.0,507.6 C350.0,512.9 360.1,518.1 370.0,523.6 C406.8,544.2 443.1,565.5 480.0,585.9 C538.0,618.0 596.4,649.4 654.6,681.1" />
<path class="t" d="M370.0,509.4 L478.2,570.2 L550.0,609.0 L654.6,667.7" />
<path class="t" d="M285.6,474.5 C287.7,474.5 289.9,474.2 292.0,474.4 C294.1,474.6 296.2,474.7 298.1,475.6 C306.1,479.3 313.6,483.9 321.3,488.2 C327.6,491.7 333.7,495.6 340.0,499.2 C363.3,512.4 386.7,525.3 410.0,538.4 C433.3,551.4 456.6,564.5 480.0,577.5 C511.7,595.1 543.5,612.5 575.2,630.0 C601.7,644.6 628.1,659.1 654.6,673.7" />
<path class="k" d="M231.4,467.8 C231.2,470 232,471.3 233.5,472.2 L241.6,476.5 C243.5,477.4 245.5,477.2 246.8,476.4 C249,475.2 250.2,474.6 249.6,473.6 C249,472.4 246.5,470.6 244.4,469.9"/>
<path class="m" d="M246.5,442.9 L253.1,447.8 L246.5,452.0" />
<path class="t" d="M232.4,443.6 L232.4,446.4" />
<path class="k" d="M667.3,704.0 A5.6,3.4 0 1 1 656.7,704.0"/>
<path class="k" d="M720.8,705.4 A7.8,4.2 0 1 1 706.4,705.4"/>
<path class="t" d="M668.5,677.2 L670.6,679.4 L668.5,681.6" /></g>
<g id="dashes"><path class="ld2" d="M282.2,23.0 V65.5"/>
<path class="ld2" d="M322.8,41.4 V88.0"/>
<path class="ld2" d="M152.3,20.1 L152.3,3.5 L174.7,16.6" />
<path class="ld2" d="M185.2,22.6 L192.3,27.1" />
<path class="ld2" d="M203.3,32.7 L239.5,54.3" />
<path class="ld2" d="M241.9,223.6 L241.9,212.1 L259.2,221.1" />
<path class="ld2" d="M263.2,223.6 L271.3,227.6" />
<path class="ld2" d="M276.3,230.7 L307.0,247.2" />
<path class="ld2" d="M311.5,250.8 L315.3,253.0 L314.9,249.0" />
<path class="ld2" d="M314.8,208.5 V243.2"/>
<path class="ld2" d="M239.4,238.7 V249.7"/>
<path class="ld2" d="M243.1,239.7 L250.2,243.7" />
<path class="ld2" d="M255.2,246.2 L285.4,263.3" />
<path class="ld2" d="M290.4,265.8 L297.4,269.8" />
<path class="ld2" d="M302.2,272.4 L333.2,290.0" />
<path class="ld3" d="M269.8,235.2 L263.7,244.2" />
<path class="ld2" d="M341.0,249.6 V284.1"/>
<path class="ld2" d="M337.2,292.3 L341.5,294.7 L341.0,290.0" />
<path class="ld2" d="M239.3,261.8 V291.7 M239.3,297.0 V303.8 M239.3,307.8 V353.5 M239.3,358.9 V365.6 M239.3,370.4 V405.9 M239.3,411.3 V418.0 M239.3,423.4 V459.7 M239.3,465.0 V473.5"/>
<path class="ld2" d="M239.3,515.2 V565.7"/>
<path class="ld2" d="M661.2,422.0 V481.7"/>
<path class="ld2" d="M712.9,425.5 V484.3"/>
<path class="ld2" d="M872.8,351.7 V394.3"/>
<path class="ld2" d="M912.6,372.6 V415.2"/>
<path class="ld2" d="M912.6,461.0 V503.8 M912.6,515.7 V524.1 M912.6,536.1 V543.1"/>
<path class="ld2" d="M661.9,499.6 V507.3 M661.9,509.5 V544.5 M661.9,550.0 V558.5 M661.9,564.0 V599.0 M661.9,604.7 V613.0 M661.9,618.8 V652.3 M661.9,658.1 V666.2 M661.9,671.2 V705.2"/>
<path class="ld2" d="M713.5,572.5 V579.5 M713.5,592.0 V634.0 M713.5,646.2 V654.6 M713.5,666.2 V706.8"/>
<path class="ld2" d="M713.6,728.6 V758.6 M713.6,770.3 V778.7"/>
<path class="ld2" d="M661.2,748.6 V792.8"/>
<path class="ld2" d="M664.8,780.4 L702.4,780.4" /></g>
</svg>
</body>
</html>
